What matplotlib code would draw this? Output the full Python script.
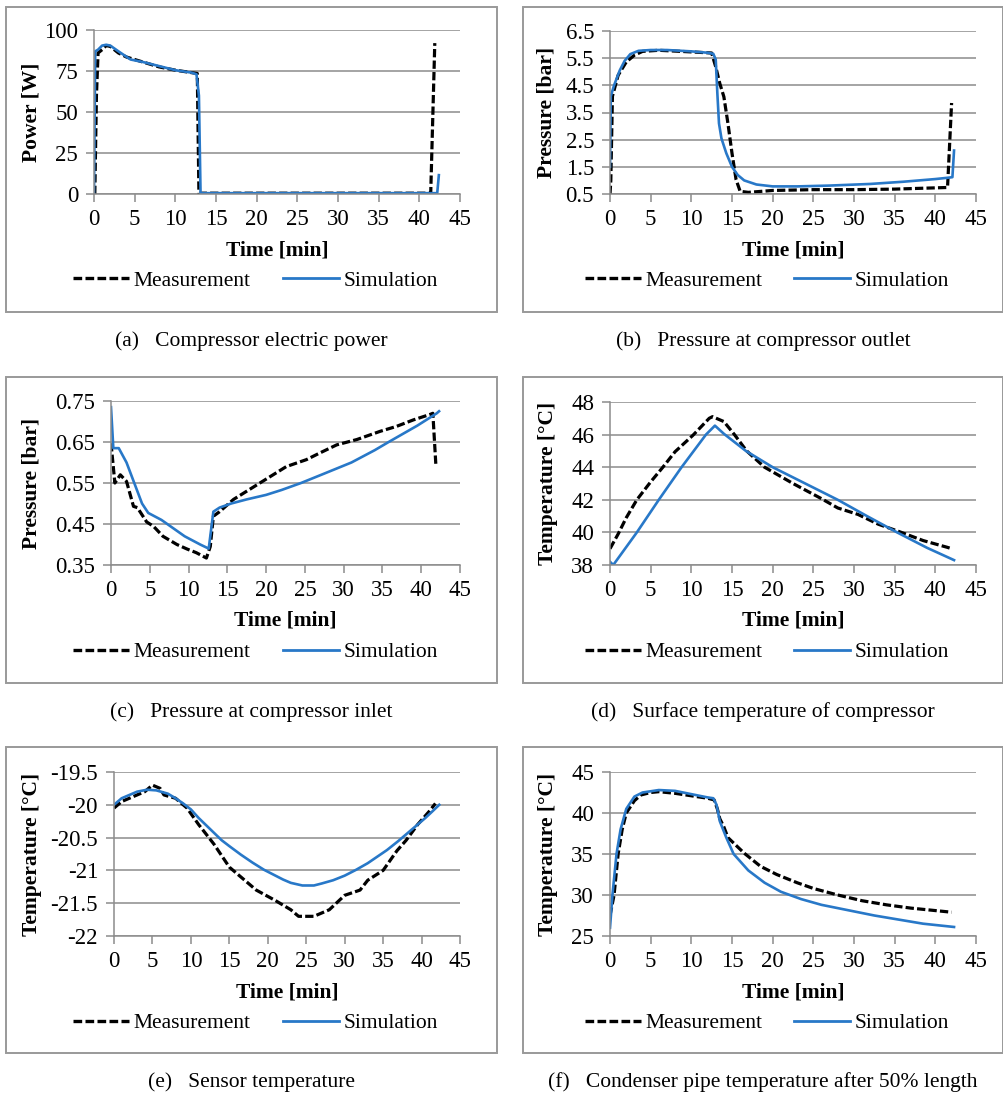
import numpy as np
import matplotlib
matplotlib.use('Agg')
import matplotlib.pyplot as plt
from matplotlib.patches import Rectangle
from matplotlib.lines import Line2D

plt.rcParams['font.family'] = ['Liberation Serif', 'DejaVu Serif']

W, H = 1004, 1095
BLUE = '#2878c8'
GRID = '#8c8c8c'
DASH = (2.6, 1.0)

# (a) compressor electric power
a_meas_t = [0.1, 0.3, 0.5, 1.0, 1.5, 2.0, 3.0, 4.0, 6.0, 8.0, 10.0, 12.0, 12.7, 12.9, 20, 30, 41.4, 41.9]
a_meas_y = [0, 60, 86, 88, 90.5, 90, 86, 83.5, 80.5, 77.5, 75.5, 74, 73.5, 0.5, 0.5, 0.5, 0.5, 92]
a_sim_t = [0, 0.15, 0.5, 1.0, 1.5, 2.0, 3.0, 4.5, 6, 8, 10, 12, 12.6, 12.9, 13.1, 25, 42.2, 42.4]
a_sim_y = [0, 87, 88, 90.5, 91, 90.5, 87, 82, 80.5, 78, 75.5, 74, 73, 60, 0.5, 0.5, 0.5, 11.5]

# (b) pressure at compressor outlet
b_meas_t = [0, 0.1, 0.3, 1, 2, 3, 4, 6, 8, 10, 12.5, 13, 13.5, 14, 14.5, 15, 15.5, 16, 17, 20, 25, 30, 35, 41.5, 42]
b_meas_y = [0.5, 1.0, 4.1, 4.87, 5.36, 5.61, 5.75, 5.79, 5.76, 5.73, 5.69, 5.18, 4.57, 4.08, 3.1, 2.0, 1.03,
            0.6, 0.56, 0.63, 0.66, 0.66, 0.68, 0.74, 3.85]
b_sim_t = [0, 0.1, 0.5, 1.2, 1.8, 2.5, 3.5, 5, 7, 10, 12, 12.7, 13.0, 13.2, 13.4, 13.7, 14.3, 15, 15.7, 16.5,
           18, 20, 23, 27, 32, 36, 40, 41.6, 42.1, 42.3]
b_sim_y = [1.5, 4.1, 4.5, 5.05, 5.4, 5.65, 5.77, 5.8, 5.8, 5.75, 5.7, 5.66, 5.45, 4.2, 3.1, 2.55, 2.0, 1.5,
           1.2, 1.0, 0.85, 0.78, 0.78, 0.81, 0.87, 0.95, 1.05, 1.1, 1.12, 2.1]

# (c) pressure at compressor inlet
c_meas_t = [0, 0.5, 1.2, 2.0, 2.9, 3.4, 4.6, 5.5, 6.7, 8.5, 9.8, 11, 12.3, 12.8, 13.2, 14, 15.8, 17.5, 19.2,
            20.9, 22.6, 25.2, 26.9, 29.1, 31.7, 34.7, 36.8, 39, 41.1, 41.5, 41.9]
c_meas_y = [0.647, 0.55, 0.57, 0.554, 0.493, 0.49, 0.455, 0.444, 0.42, 0.40, 0.389, 0.38, 0.367, 0.395, 0.469,
            0.48, 0.51, 0.53, 0.55, 0.57, 0.59, 0.607, 0.623, 0.643, 0.656, 0.676, 0.688, 0.704, 0.717, 0.72, 0.59]
c_sim_t = [0, 0.3, 1.0, 2.0, 3.0, 4.0, 4.8, 5.5, 6.5, 8, 9.5, 11.5, 12.6, 13.2, 14, 15.5, 17.5, 20, 22, 24.5,
           27.5, 31, 34, 35.8, 39.5, 42, 42.3]
c_sim_y = [0.735, 0.635, 0.635, 0.60, 0.55, 0.50, 0.477, 0.47, 0.46, 0.44, 0.42, 0.40, 0.39, 0.48, 0.49, 0.50,
           0.51, 0.521, 0.533, 0.55, 0.573, 0.60, 0.63, 0.65, 0.69, 0.72, 0.725]

# (d) surface temperature of compressor
d_meas_t = [0, 1, 2, 3.3, 5, 6.5, 8, 10.2, 12.2, 12.6, 14, 15.3, 16.8, 19, 22.5, 26, 28, 30.5, 33, 35.5, 38.5,
            41.5, 42]
d_meas_y = [39, 39.9, 40.9, 42.0, 43.1, 44.0, 44.95, 45.96, 47.0, 47.1, 46.8, 46.0, 45.0, 44.0, 43.0, 42.07,
            41.5, 41.1, 40.5, 40.06, 39.5, 39.08, 39.0]
d_sim_t = [0, 0.4, 3.3, 6, 8.8, 11.8, 12.9, 14, 16.7, 20, 24, 28, 31.6, 35.3, 39, 42.3]
d_sim_y = [38.2, 38.0, 40.0, 42.0, 44.0, 46.0, 46.55, 46.05, 45.0, 44.0, 43.0, 42.0, 41.0, 40.0, 39.05, 38.3]

# (e) sensor temperature
e_meas_t = [0, 1, 2, 3, 4, 5, 6, 6.5, 8, 9.5, 11, 13, 15, 17, 18.5, 21, 23, 24, 26, 28, 30, 32, 33, 35, 36.8,
            38, 39.5, 41, 41.8]
e_meas_y = [-20.05, -19.95, -19.9, -19.85, -19.8, -19.7, -19.75, -19.85, -19.9, -20.05, -20.3, -20.6, -20.95,
            -21.15, -21.3, -21.46, -21.6, -21.7, -21.7, -21.6, -21.38, -21.3, -21.15, -21.0, -20.7, -20.54,
            -20.3, -20.1, -19.98]
e_sim_t = [0, 1, 2, 3, 4.3, 5.5, 7, 8, 9, 10, 11, 12.5, 14, 15, 16.5, 18, 19.5, 20.5, 22, 23, 24.5, 26, 27,
           28.5, 30, 31.5, 33, 34.5, 35.5, 37, 38, 39.5, 40.5, 41.5, 42.3]
e_sim_y = [-20.0, -19.9, -19.85, -19.8, -19.77, -19.78, -19.83, -19.9, -19.98, -20.07, -20.2, -20.37, -20.54,
           -20.63, -20.76, -20.88, -20.99, -21.05, -21.14, -21.19, -21.23, -21.23, -21.2, -21.15, -21.08,
           -20.99, -20.89, -20.77, -20.69, -20.55, -20.45, -20.3, -20.2, -20.09, -20.0]

# (f) condenser pipe temperature after 50% length
f_meas_t = [0, 0.5, 1, 1.5, 2, 3, 3.8, 5, 6, 8, 10, 12, 12.8, 13.2, 13.5, 14, 14.5, 16.5, 18.5, 20.5, 23, 25,
            28, 31, 34, 37, 40, 42]
f_meas_y = [27.5, 30, 35, 38, 40, 41.5, 42.2, 42.5, 42.6, 42.4, 42.1, 41.8, 41.6, 40.5, 39.3, 38.3, 37.0, 35.1,
            33.5, 32.5, 31.5, 30.8, 30.0, 29.3, 28.8, 28.4, 28.1, 27.9]
f_sim_t = [0, 0.3, 0.8, 1.3, 2, 3, 4, 6, 8, 10, 12, 12.7, 13.1, 13.5, 14.3, 15.2, 17, 19, 21, 23.5, 26, 29.5,
           32.5, 35.5, 38.5, 42.3]
f_sim_y = [26, 30, 35, 38, 40.5, 42, 42.5, 42.8, 42.7, 42.3, 41.9, 41.8, 41.0, 39.0, 37.0, 35.0, 33.0, 31.5,
           30.4, 29.5, 28.8, 28.1, 27.5, 27.0, 26.5, 26.1]

x_ticks = [0, 5, 10, 15, 20, 25, 30, 35, 40, 45]


def fig_rect(l, t, r, b):
    return [l / W, 1 - b / H, (r - l) / W, (b - t) / H]


def cap(fig, x, y, s):
    fig.text(x / W, 1 - y / H, s, fontsize=15.5, ha='center', va='center')


fig = plt.figure(figsize=(W / 100, H / 100), dpi=100)

panels = [
    ((6, 7, 497, 312), (94, 30, 460, 194), 32, (a_meas_t, a_meas_y), (a_sim_t, a_sim_y),
     [0, 25, 50, 75, 100], 'Power [W]', '(a)   Compressor electric power', None),
    ((523, 7, 1003, 312), (610, 31, 976, 194), 547, (b_meas_t, b_meas_y), (b_sim_t, b_sim_y),
     [0.5, 1.5, 2.5, 3.5, 4.5, 5.5, 6.5], 'Pressure [bar]', '(b)   Pressure at compressor outlet',
     lambda v: f'{v:.1f}'),
    ((6, 377, 497, 683), (111, 401, 460, 565), 32, (c_meas_t, c_meas_y), (c_sim_t, c_sim_y),
     [0.35, 0.45, 0.55, 0.65, 0.75], 'Pressure [bar]', '(c)   Pressure at compressor inlet',
     lambda v: f'{v:.2f}'),
    ((523, 377, 1003, 683), (610, 402, 976, 565), 548, (d_meas_t, d_meas_y), (d_sim_t, d_sim_y),
     [38, 40, 42, 44, 46, 48], 'Temperature [°C]', '(d)   Surface temperature of compressor', None),
    ((6, 747, 497, 1053), (114, 772, 460, 936), 32, (e_meas_t, e_meas_y), (e_sim_t, e_sim_y),
     [-22, -21.5, -21, -20.5, -20, -19.5], 'Temperature [°C]', '(e)   Sensor temperature',
     lambda v: f'{v:g}'),
    ((523, 747, 1003, 1053), (610, 772, 976, 936), 548, (f_meas_t, f_meas_y), (f_sim_t, f_sim_y),
     [25, 30, 35, 40, 45], 'Temperature [°C]', '(f)   Condenser pipe temperature after 50% length', None),
]

for box, axbox, ylx, meas, sim, yt, yl, captxt, fmt in panels:
    bl, bt, br, bb = box
    fig.patches.append(Rectangle((bl / W, 1 - bb / H), (br - bl) / W, (bb - bt) / H,
                                 transform=fig.transFigure, fill=False, edgecolor='#999999', linewidth=1.4))
    ax = fig.add_axes(fig_rect(*axbox))
    ax.plot(meas[0], meas[1], color='black', linewidth=2.3, dashes=DASH)
    ax.plot(sim[0], sim[1], color=BLUE, linewidth=1.9)
    ax.set_xlim(0, 45)
    ax.set_ylim(yt[0], yt[-1])
    ax.set_xticks(x_ticks)
    ax.set_yticks(yt)
    if fmt:
        ax.set_yticklabels([fmt(v) for v in yt])
    ax.yaxis.grid(True, color=GRID, linewidth=1.1)
    ax.set_axisbelow(True)
    for s in ['top', 'right']:
        ax.spines[s].set_visible(False)
    for s in ['left', 'bottom']:
        ax.spines[s].set_color(GRID)
        ax.spines[s].set_linewidth(1.1)
    ax.tick_params(axis='both', colors=GRID, labelcolor='black', labelsize=16.5, width=1.1, length=5.5)
    ax.tick_params(axis='y', pad=6)
    ax.tick_params(axis='x', pad=5)
    ah = axbox[3] - axbox[1]
    aw = axbox[2] - axbox[0]
    ax.set_xlabel('Time [min]', fontsize=15.5, fontweight='bold')
    ax.xaxis.label.set_va('center')
    ax.xaxis.set_label_coords(0.5, -56 / ah)
    ax.set_ylabel(yl, fontsize=15.5, fontweight='bold')
    ax.yaxis.label.set_va('center')
    ax.yaxis.set_label_coords((ylx - axbox[0]) / aw, 0.5)

    cx = (bl + br) / 2 + 4
    handles = [Line2D([], [], color='black', linewidth=2.4, dashes=DASH),
               Line2D([], [], color=BLUE, linewidth=2.0)]
    fig.legend(handles, ['Measurement', 'Simulation'], loc='center', ncol=2, frameon=False,
               bbox_to_anchor=(cx / W, 1 - (axbox[3] + 87) / H), bbox_transform=fig.transFigure,
               fontsize=15.5, handlelength=2.6, handletextpad=0.2, columnspacing=1.5,
               borderpad=0, borderaxespad=0)
    cap(fig, (bl + br) / 2, bb + 29, captxt)

fig.savefig('out.png', dpi=100, facecolor='white')
